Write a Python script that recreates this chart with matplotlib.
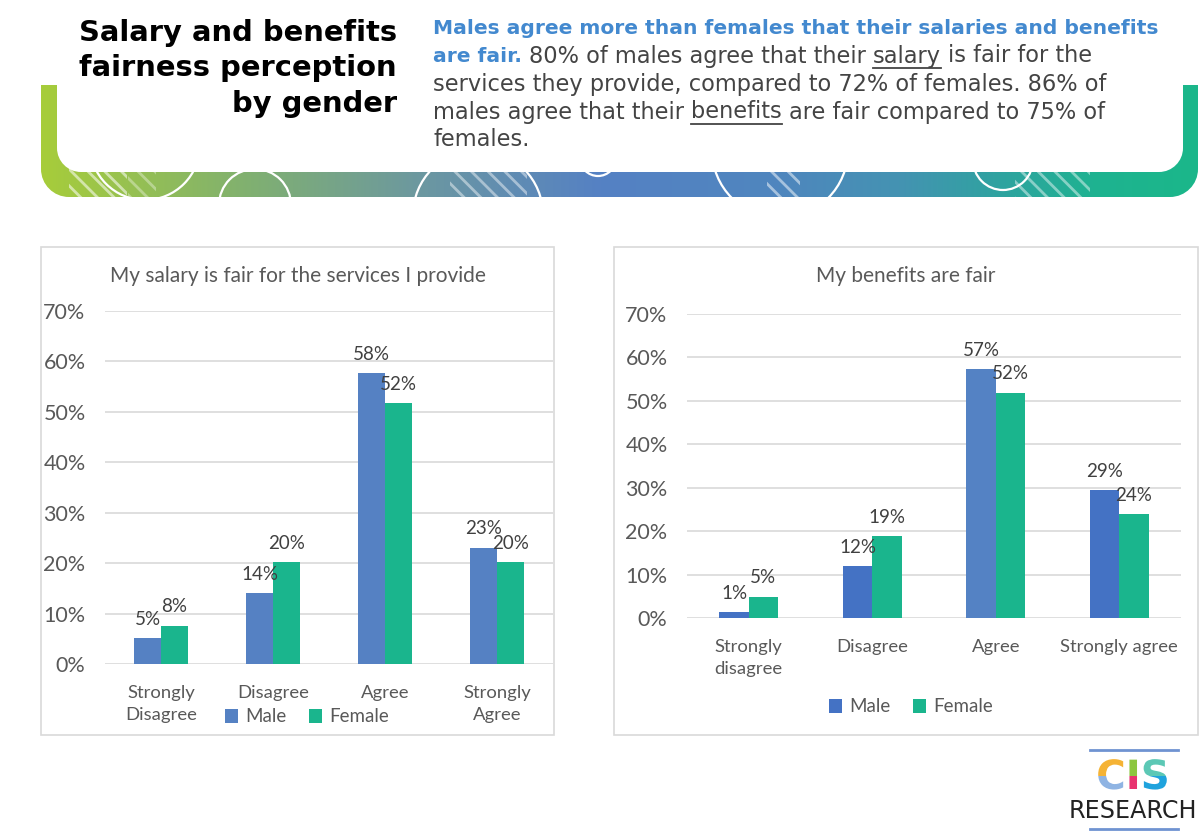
import matplotlib
matplotlib.use("Agg")
import matplotlib.pyplot as plt
import numpy as np
from matplotlib.path import Path
from matplotlib.patches import PathPatch, Rectangle, Circle
from matplotlib.colors import to_rgb
from matplotlib.patheffects import AbstractPathEffect
from matplotlib.transforms import Bbox

# ---------------- data ----------------
salary_title = "My salary is fair for the services I provide"
salary_categories = ["Strongly\nDisagree", "Disagree", "Agree", "Strongly\nAgree"]
salary_male = [5.2, 14.0, 57.7, 23.1]
salary_female = [7.6, 20.2, 51.8, 20.2]

benefits_title = "My benefits are fair"
benefits_categories = ["Strongly\ndisagree", "Disagree", "Agree", "Strongly agree"]
benefits_male = [1.4, 11.9, 57.3, 29.4]
benefits_female = [4.9, 18.9, 51.9, 24.0]

series_names = ["Male", "Female"]
y_ticks = [0, 10, 20, 30, 40, 50, 60, 70]
y_tick_labels = ["0%", "10%", "20%", "30%", "40%", "50%", "60%", "70%"]

header_title = ["Salary and benefits", "fairness perception", "by gender"]

# ---------------- styles ----------------
W, H = 1200, 832
CHART_FONT = "Lato"
HEAD_FONT = "DejaVu Sans"
MALE_LEFT = "#5581C3"
MALE_RIGHT = ["#4472C4", "#4472C4", "#5482C4", "#4472C4"]
FEMALE = "#1AB58D"
GRID = "#D9D9D9"
TXT = "#595959"
LBL = "#404040"

fig = plt.figure(figsize=(W / 100, H / 100), dpi=100)
fig.patch.set_facecolor("white")
bg = fig.add_axes([0, 0, 1, 1], zorder=0)
bg.set_xlim(0, W)
bg.set_ylim(H, 0)
bg.axis("off")
renderer = fig.canvas.get_renderer()


def tw(s, **kw):
    t = bg.text(0, 0, s, **kw)
    w = t.get_window_extent(renderer).width
    t.remove()
    return w


def fit_size(s, target, base=15.0, **kw):
    return base * target / tw(s, fontsize=base, **kw)


def bottom_rounded_path(x0, y0, x1, y1, r):
    k = 0.5523 * r
    verts = [(x0, y0), (x0, y1 - r), (x0, y1 - r + k), (x0 + r - k, y1), (x0 + r, y1),
             (x1 - r, y1), (x1 - r + k, y1), (x1, y1 - r + k), (x1, y1 - r),
             (x1, y0), (x0, y0)]
    codes = [Path.MOVETO, Path.LINETO, Path.CURVE4, Path.CURVE4, Path.CURVE4,
             Path.LINETO, Path.CURVE4, Path.CURVE4, Path.CURVE4,
             Path.LINETO, Path.CLOSEPOLY]
    return Path(verts, codes)


class MultiTone(AbstractPathEffect):
    """Fill text in several colours, each inside a rectangle given in image px."""

    def __init__(self, regions):
        super().__init__()
        self.regions = [(x0, H - y1, x1, H - y0, to_rgb(c))
                        for x0, y0, x1, y1, c in regions]

    def draw_path(self, renderer, gc, tpath, affine, rgbFace=None):
        for x0, y0, x1, y1, col in self.regions:
            gc0 = renderer.new_gc()
            gc0.copy_properties(gc)
            gc0.set_clip_rectangle(Bbox([[x0, y0], [x1, y1]]))
            renderer.draw_path(gc0, tpath, affine, col)
            gc0.restore()


# ---------------- banner ----------------
band = PathPatch(bottom_rounded_path(41, 85, 1198, 197, 28), facecolor="none",
                 edgecolor="none", zorder=1)
bg.add_patch(band)
stops = [(41, "#A7CD3A"), (250, "#80B071"), (420, "#6C98A0"), (600, "#5581C4"),
         (780, "#4F86BE"), (900, "#4493B2"), (1000, "#2FA3A0"), (1100, "#1EB390"),
         (1198, "#1BB78A")]
xs = np.linspace(41, 1198, 600)
cols = np.array([to_rgb(c) for _, c in stops])
px = np.array([p for p, _ in stops])
grad = np.stack([np.interp(xs, px, cols[:, i]) for i in range(3)], axis=-1)[None, :, :]
im = bg.imshow(grad, extent=(41, 1198, 197, 85), aspect="auto", zorder=1,
               interpolation="bilinear")
im.set_clip_path(band)

plt.rcParams["hatch.linewidth"] = 2.0
for (hx0, hx1, a) in [(69, 127, 0.55), (128, 156, 0.35), (450, 527, 0.45),
                      (767, 800, 0.5), (1015, 1090, 0.45)]:
    hp = Rectangle((hx0, 165), hx1 - hx0, 40, facecolor="none",
                   edgecolor=(1, 1, 1, a), hatch="\\\\", lw=0, zorder=2)
    bg.add_patch(hp)
    hp.set_clip_path(band)
for (cx, cy, r) in [(145, 145, 55), (255, 205, 36), (478, 215, 65),
                    (598, 158, 18), (780, 150, 68), (1003, 160, 30)]:
    c = Circle((cx, cy), r, facecolor="none", edgecolor="white", lw=1.6, zorder=2)
    bg.add_patch(c)
    c.set_clip_path(band)

bg.add_patch(PathPatch(bottom_rounded_path(57, -20, 1183, 172, 24),
                       facecolor="white", edgecolor="none", zorder=3))

# ---------------- header text ----------------
tfs = fit_size(header_title[0], 319, family=HEAD_FONT, fontweight="bold")
for i, line in enumerate(header_title):
    bg.text(397, 33 + 35.5 * i, line, ha="right", va="center", fontsize=tfs,
            fontweight="bold", family=HEAD_FONT, color="black", zorder=4)

BLUE = "#4389CF"
GRAY = "#444444"

para = [
    [("Males agree more than females that their salaries and benefits", "b", False)],
    [("are fair.", "b", False), ("80% of males agree that their", "r", False),
     ("salary", "r", True), ("is fair for the", "r", False)],
    [("services they provide, compared to 72% of females. 86% of", "r", False)],
    [("males agree that their", "r", False), ("benefits", "r", True),
     ("are fair compared to 75% of", "r", False)],
    [("females.", "r", False)],
]
bfs = fit_size(para[0][0][0], 727, family=HEAD_FONT, fontweight="bold")
rfs = fit_size(para[2][0][0], 677, family=HEAD_FONT)
styles = {"b": dict(fontsize=bfs, family=HEAD_FONT, fontweight="bold", color=BLUE),
          "r": dict(fontsize=rfs, family=HEAD_FONT, color=GRAY)}
space_w = tw("x x", **styles["r"]) - tw("xx", **styles["r"])
for li, segs in enumerate(para):
    x = 433
    y = 28 + 28 * li
    for s, st, ul in segs:
        kw = styles[st]
        t = bg.text(x, y, s, ha="left", va="center", zorder=4, **kw)
        w = t.get_window_extent(renderer).width
        if ul:
            bg.plot([x, x + w], [y + 12, y + 12], color=GRAY, lw=1.3, zorder=4)
        x += w + space_w


# ---------------- charts ----------------
def px_rect(x0, y0, x1, y1):
    return [x0 / W, 1 - y1 / H, (x1 - x0) / W, (y1 - y0) / H]


def make_chart(box, plot, title, cats, male, female, male_colors, legend_xy,
               cat_pad):
    bx0, by0, bx1, by1 = box
    bg.add_patch(Rectangle((bx0, by0), bx1 - bx0, by1 - by0, facecolor="white",
                           edgecolor=GRID, lw=1.2, zorder=1))
    bg.text((bx0 + bx1) / 2, 276, title, ha="center", va="center", fontsize=15,
            family=CHART_FONT, color=TXT, zorder=4)
    ax = fig.add_axes(px_rect(*plot), zorder=5)
    ax.set_facecolor("none")
    x = np.arange(len(cats))
    bw = 0.237
    b1 = ax.bar(x - bw / 2, male, bw, color=male_colors, label=series_names[0], zorder=3)
    b2 = ax.bar(x + bw / 2, female, bw, color=FEMALE, label=series_names[1], zorder=3)
    for bars, vals in ((b1, male), (b2, female)):
        for b, v in zip(bars, vals):
            ax.annotate(f"{round(v)}%", (b.get_x() + b.get_width() / 2, v),
                        xytext=(0, 13.5), textcoords="offset points", ha="center",
                        va="center", fontsize=13.5, family=CHART_FONT, color=LBL)
    ax.set_xlim(-0.5, len(cats) - 0.5)
    ax.set_ylim(0, 70)
    ax.set_yticks(y_ticks)
    ax.set_yticklabels(y_tick_labels, family=CHART_FONT, fontsize=15.5, color=TXT)
    ax.set_xticks(x)
    ax.set_xticklabels(cats, family=CHART_FONT, fontsize=13.3, color=TXT,
                       linespacing=1.45)
    ax.tick_params(axis="y", length=0, pad=14)
    ax.tick_params(axis="x", length=0, pad=cat_pad)
    for s in ax.spines.values():
        s.set_visible(False)
    ax.yaxis.grid(True, color=GRID, lw=1.2)
    ax.set_axisbelow(True)
    fig.legend(handles=[b1, b2], labels=series_names, loc="center",
               bbox_to_anchor=(legend_xy[0] / W, 1 - legend_xy[1] / H),
               ncol=2, frameon=False, handlelength=0.7, handleheight=0.7,
               handletextpad=0.4, columnspacing=1.2,
               prop=dict(family=CHART_FONT, size=13.5), labelcolor=TXT)
    return ax


make_chart((41, 247, 554, 735), (105, 311, 553, 664), salary_title,
           salary_categories, salary_male, salary_female, MALE_LEFT, (307, 717), 15)
make_chart((614, 247, 1198, 735), (687, 314, 1181, 618), benefits_title,
           benefits_categories, benefits_male, benefits_female, MALE_RIGHT,
           (911, 707), 15)

# ---------------- logo ----------------
bg.plot([1090, 1178], [750, 750], color="#6F93D1", lw=2, zorder=4)
bg.plot([1090, 1178], [829, 829], color="#6F93D1", lw=2, zorder=4)
logo_kw = dict(fontsize=29, fontweight="bold", family="DejaVu Sans")
lw_all = tw("CIS", **logo_kw)
lx0 = 1133 - lw_all / 2
b1x = lx0 + tw("C", **logo_kw)
b2x = lx0 + tw("CI", **logo_kw) - 1
split = 776
regions = [(0, 0, b1x, split, "#F5B335"), (0, split, b1x, H, "#8FB4E3"),
           (b1x, 0, b2x, split, "#8CC63F"), (b1x, split, b2x, H, "#E8336F"),
           (b2x, 0, W, split, "#5CC8B5"), (b2x, split, W, H, "#1FA3DD")]
bg.text(1133, 778, "CIS", ha="center", va="center", color="#1FA3DD", zorder=4,
        path_effects=[MultiTone(regions)], **logo_kw)
rs = fit_size("RESEARCH", 127, family="DejaVu Sans")
bg.text(1133, 811, "RESEARCH", ha="center", va="center", fontsize=rs,
        family="DejaVu Sans", color="#222222", zorder=4)

fig.savefig("out.png", dpi=100, facecolor="white")
